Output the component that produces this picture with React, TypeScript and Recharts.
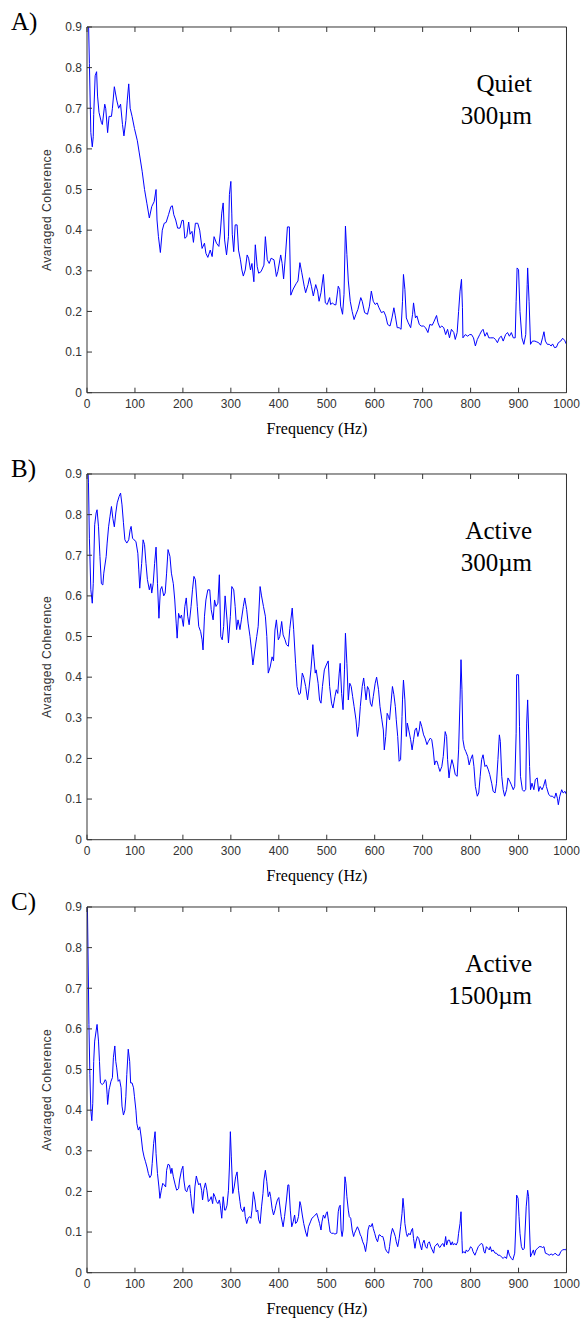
import { Line, LineChart, XAxis, YAxis } from "recharts";

const FREQ_TICKS = [0, 100, 200, 300, 400, 500, 600, 700, 800, 900, 1000];
const COH_TICKS = [0, 0.1, 0.2, 0.3, 0.4, 0.5, 0.6, 0.7, 0.8, 0.9];

// [frequency (Hz), averaged coherence]
const quiet300: [number, number][] = [
  [0, 0.98], [3, 0.92], [5, 0.81], [8, 0.64], [11, 0.605], [13, 0.63], [14, 0.685], [17, 0.78], [20, 0.79],
  [22, 0.73], [25, 0.69], [30, 0.665], [32, 0.66], [37, 0.71], [39, 0.7], [43, 0.64], [46, 0.68], [51, 0.68],
  [53, 0.7], [57, 0.753], [62, 0.72], [66, 0.7], [70, 0.71], [74, 0.66], [77, 0.632], [81, 0.67], [84, 0.72],
  [87, 0.76], [90, 0.7], [94, 0.68], [99, 0.65], [105, 0.62], [109, 0.59], [115, 0.545], [120, 0.5], [125, 0.465],
  [130, 0.43], [135, 0.458], [140, 0.47], [144, 0.5], [146, 0.425], [149, 0.384], [153, 0.345], [157, 0.4],
  [161, 0.417], [165, 0.419], [170, 0.438], [175, 0.458], [178, 0.46], [181, 0.438], [185, 0.425], [189, 0.405],
  [194, 0.405], [198, 0.424], [201, 0.424], [204, 0.38], [208, 0.384], [212, 0.42], [215, 0.39], [219, 0.397],
  [222, 0.37], [226, 0.417], [231, 0.417], [235, 0.4], [240, 0.355], [245, 0.368], [248, 0.343], [252, 0.333],
  [257, 0.351], [261, 0.335], [265, 0.384], [270, 0.368], [275, 0.36], [278, 0.393], [281, 0.442], [284, 0.467],
  [287, 0.376], [291, 0.339], [295, 0.384], [297, 0.488], [300, 0.52], [302, 0.44], [303, 0.39], [306, 0.347],
  [309, 0.413], [313, 0.413], [316, 0.351], [320, 0.327], [323, 0.302], [326, 0.287], [330, 0.302], [334, 0.339],
  [337, 0.331], [341, 0.302], [344, 0.318], [348, 0.273], [351, 0.364], [355, 0.31], [358, 0.294], [363, 0.298],
  [369, 0.314], [372, 0.384], [376, 0.327], [380, 0.318], [384, 0.331], [390, 0.327], [395, 0.286], [398, 0.298],
  [404, 0.339], [407, 0.318], [410, 0.28], [414, 0.339], [418, 0.408], [422, 0.408], [425, 0.24], [430, 0.255],
  [436, 0.268], [440, 0.275], [444, 0.32], [448, 0.295], [453, 0.262], [456, 0.246], [461, 0.266], [464, 0.283],
  [468, 0.262], [472, 0.238], [477, 0.266], [481, 0.25], [484, 0.225], [488, 0.246], [493, 0.291], [497, 0.221],
  [501, 0.217], [506, 0.234], [508, 0.217], [512, 0.221], [515, 0.217], [519, 0.216], [524, 0.262], [527, 0.254],
  [529, 0.213], [533, 0.193], [536, 0.242], [539, 0.41], [542, 0.34], [545, 0.275], [549, 0.225], [553, 0.2],
  [557, 0.18], [561, 0.193], [565, 0.205], [571, 0.234], [574, 0.225], [579, 0.197], [585, 0.193], [589, 0.213],
  [593, 0.25], [597, 0.225], [601, 0.217], [605, 0.221], [609, 0.209], [614, 0.197], [619, 0.2], [623, 0.189],
  [627, 0.168], [632, 0.164], [636, 0.184], [640, 0.209], [643, 0.189], [647, 0.16], [651, 0.16], [655, 0.156],
  [658, 0.225], [660, 0.291], [663, 0.254], [666, 0.184], [670, 0.172], [675, 0.16], [679, 0.193], [681, 0.221],
  [685, 0.184], [688, 0.189], [693, 0.168], [697, 0.164], [702, 0.164], [706, 0.16], [711, 0.148], [715, 0.168],
  [720, 0.166], [724, 0.176], [729, 0.19], [732, 0.172], [736, 0.16], [740, 0.164], [744, 0.16], [748, 0.143],
  [752, 0.156], [756, 0.135], [760, 0.156], [765, 0.148], [768, 0.131], [772, 0.148], [775, 0.2], [778, 0.25],
  [781, 0.279], [783, 0.209], [784, 0.135], [789, 0.143], [794, 0.139], [798, 0.143], [802, 0.143], [806, 0.135],
  [810, 0.115], [814, 0.131], [819, 0.143], [823, 0.152], [826, 0.156], [830, 0.139], [834, 0.148], [838, 0.135],
  [842, 0.135], [848, 0.135], [852, 0.131], [856, 0.123], [860, 0.135], [864, 0.139], [868, 0.127], [873, 0.143],
  [877, 0.148], [881, 0.139], [885, 0.148], [889, 0.135], [893, 0.135], [895, 0.225], [897, 0.307], [900, 0.303],
  [903, 0.2], [907, 0.135], [911, 0.119], [915, 0.143], [918, 0.266], [919, 0.307], [922, 0.225], [925, 0.119],
  [929, 0.127], [934, 0.127], [938, 0.125], [942, 0.123], [946, 0.117], [950, 0.135], [953, 0.15], [956, 0.127],
  [960, 0.119], [964, 0.119], [968, 0.115], [971, 0.12], [975, 0.111], [979, 0.112], [983, 0.123], [988, 0.127],
  [992, 0.134], [996, 0.129], [1000, 0.119],
];

const active300: [number, number][] = [
  [0, 0.98], [3, 0.88], [5, 0.742], [8, 0.615], [11, 0.582], [13, 0.63], [16, 0.775], [19, 0.804], [21, 0.812],
  [24, 0.77], [27, 0.697], [30, 0.63], [33, 0.627], [35, 0.656], [40, 0.697], [42, 0.73], [45, 0.77], [48, 0.796],
  [51, 0.82], [54, 0.79], [57, 0.77], [60, 0.804], [63, 0.829], [67, 0.845], [70, 0.853], [73, 0.824], [76, 0.78],
  [79, 0.738], [83, 0.73], [87, 0.738], [90, 0.763], [92, 0.771], [95, 0.742], [98, 0.738], [102, 0.734],
  [106, 0.705], [108, 0.664], [110, 0.619], [114, 0.68], [117, 0.738], [120, 0.726], [123, 0.68], [126, 0.64],
  [130, 0.615], [133, 0.63], [135, 0.607], [138, 0.63], [141, 0.68], [144, 0.72], [147, 0.63], [150, 0.545],
  [153, 0.615], [156, 0.623], [160, 0.6], [163, 0.607], [166, 0.656], [169, 0.714], [173, 0.697], [176, 0.656],
  [180, 0.63], [183, 0.59], [186, 0.533], [188, 0.496], [191, 0.557], [194, 0.545], [197, 0.553], [201, 0.525],
  [204, 0.574], [207, 0.595], [210, 0.55], [213, 0.529], [217, 0.574], [220, 0.615], [223, 0.648], [226, 0.64],
  [230, 0.574], [233, 0.525], [237, 0.512], [240, 0.492], [242, 0.467], [245, 0.55], [248, 0.59], [252, 0.615],
  [256, 0.615], [259, 0.566], [263, 0.541], [266, 0.59], [269, 0.574], [273, 0.582], [276, 0.652], [279, 0.5],
  [282, 0.492], [285, 0.525], [288, 0.6], [292, 0.541], [295, 0.484], [299, 0.55], [302, 0.623], [306, 0.615],
  [309, 0.574], [312, 0.517], [315, 0.541], [319, 0.517], [322, 0.541], [326, 0.574], [329, 0.595], [333, 0.566],
  [336, 0.533], [340, 0.5], [343, 0.467], [346, 0.43], [350, 0.467], [354, 0.5], [357, 0.525], [361, 0.623],
  [364, 0.6], [368, 0.574], [372, 0.55], [375, 0.5], [378, 0.41], [382, 0.425], [386, 0.45], [389, 0.44],
  [392, 0.516], [395, 0.541], [399, 0.492], [402, 0.5], [406, 0.537], [409, 0.504], [413, 0.492], [416, 0.48],
  [420, 0.476], [423, 0.52], [428, 0.57], [431, 0.517], [435, 0.434], [438, 0.377], [442, 0.357], [445, 0.36],
  [449, 0.41], [452, 0.4], [456, 0.377], [460, 0.344], [463, 0.373], [467, 0.418], [471, 0.48], [473, 0.45],
  [476, 0.41], [478, 0.418], [482, 0.385], [485, 0.344], [488, 0.336], [491, 0.377], [495, 0.418], [499, 0.43],
  [503, 0.44], [506, 0.377], [510, 0.336], [513, 0.324], [517, 0.352], [520, 0.369], [523, 0.36], [526, 0.41],
  [528, 0.434], [531, 0.36], [534, 0.32], [537, 0.418], [539, 0.508], [542, 0.434], [545, 0.344], [548, 0.385],
  [551, 0.377], [554, 0.352], [557, 0.328], [561, 0.295], [564, 0.254], [567, 0.279], [570, 0.328], [574, 0.377],
  [577, 0.398], [579, 0.377], [582, 0.344], [585, 0.377], [588, 0.369], [591, 0.336], [594, 0.328], [597, 0.352],
  [601, 0.385], [604, 0.4], [608, 0.369], [611, 0.328], [615, 0.295], [618, 0.27], [620, 0.221], [623, 0.254],
  [626, 0.311], [629, 0.303], [631, 0.295], [634, 0.336], [637, 0.377], [640, 0.357], [643, 0.328], [645, 0.295],
  [648, 0.254], [651, 0.193], [654, 0.197], [657, 0.303], [658, 0.344], [660, 0.393], [663, 0.344], [666, 0.254],
  [668, 0.287], [671, 0.27], [675, 0.246], [678, 0.221], [681, 0.246], [684, 0.27], [687, 0.275], [690, 0.254],
  [693, 0.27], [695, 0.291], [698, 0.279], [702, 0.258], [705, 0.25], [709, 0.234], [712, 0.242], [716, 0.25],
  [719, 0.246], [722, 0.221], [725, 0.184], [727, 0.193], [730, 0.193], [733, 0.18], [736, 0.168], [740, 0.18],
  [743, 0.205], [747, 0.266], [750, 0.254], [752, 0.197], [755, 0.152], [757, 0.172], [761, 0.197], [764, 0.184],
  [768, 0.16], [772, 0.156], [775, 0.221], [778, 0.344], [780, 0.443], [782, 0.369], [784, 0.246], [787, 0.225],
  [790, 0.217], [794, 0.205], [797, 0.184], [800, 0.197], [804, 0.209], [807, 0.18], [810, 0.131], [814, 0.107],
  [817, 0.115], [820, 0.156], [823, 0.197], [826, 0.209], [830, 0.18], [833, 0.184], [837, 0.172], [840, 0.16],
  [844, 0.139], [847, 0.119], [851, 0.115], [854, 0.139], [857, 0.197], [860, 0.258], [862, 0.242], [865, 0.156],
  [868, 0.123], [871, 0.107], [875, 0.123], [878, 0.152], [882, 0.143], [885, 0.135], [889, 0.123], [892, 0.131],
  [895, 0.262], [896, 0.406], [900, 0.406], [902, 0.279], [904, 0.156], [908, 0.123], [911, 0.119], [915, 0.123],
  [917, 0.287], [919, 0.344], [921, 0.27], [923, 0.18], [925, 0.123], [928, 0.139], [932, 0.123], [935, 0.148],
  [939, 0.152], [942, 0.119], [945, 0.131], [949, 0.123], [952, 0.131], [956, 0.148], [958, 0.131], [963, 0.111],
  [967, 0.107], [971, 0.107], [975, 0.102], [978, 0.115], [981, 0.102], [983, 0.086], [986, 0.107], [990, 0.123],
  [993, 0.115], [997, 0.119], [1000, 0.111],
];

const active1500: [number, number][] = [
  [0, 0.98], [2, 0.8], [4, 0.611], [6, 0.488], [8, 0.4], [10, 0.374], [12, 0.416], [14, 0.52], [16, 0.57],
  [19, 0.595], [21, 0.611], [24, 0.57], [26, 0.52], [28, 0.467], [32, 0.463], [35, 0.467], [38, 0.475], [40, 0.471],
  [42, 0.438], [43, 0.414], [46, 0.45], [47, 0.455], [50, 0.471], [53, 0.48], [55, 0.529], [58, 0.558], [60, 0.52],
  [62, 0.504], [65, 0.471], [68, 0.475], [71, 0.455], [73, 0.41], [76, 0.388], [79, 0.4], [81, 0.433], [83, 0.488],
  [86, 0.55], [89, 0.52], [91, 0.467], [94, 0.467], [97, 0.455], [99, 0.433], [102, 0.4], [104, 0.367], [107, 0.351],
  [110, 0.359], [113, 0.334], [116, 0.302], [119, 0.285], [122, 0.273], [125, 0.26], [128, 0.244], [131, 0.234],
  [134, 0.24], [136, 0.269], [139, 0.318], [142, 0.347], [144, 0.293], [147, 0.244], [150, 0.211], [152, 0.183],
  [155, 0.203], [158, 0.22], [161, 0.216], [164, 0.211], [166, 0.252], [169, 0.267], [172, 0.265], [175, 0.244],
  [177, 0.257], [180, 0.236], [184, 0.216], [187, 0.203], [191, 0.207], [193, 0.228], [197, 0.252], [200, 0.262],
  [202, 0.228], [205, 0.203], [208, 0.199], [211, 0.211], [214, 0.216], [216, 0.195], [219, 0.162], [222, 0.146],
  [225, 0.211], [228, 0.238], [230, 0.228], [233, 0.216], [236, 0.22], [239, 0.203], [241, 0.179], [244, 0.207],
  [247, 0.221], [250, 0.203], [253, 0.175], [256, 0.179], [259, 0.187], [262, 0.17], [264, 0.195], [267, 0.187],
  [270, 0.175], [273, 0.17], [276, 0.179], [278, 0.166], [281, 0.134], [284, 0.187], [287, 0.154], [289, 0.154],
  [292, 0.166], [295, 0.203], [297, 0.26], [299, 0.347], [301, 0.285], [304, 0.195], [307, 0.211], [310, 0.236],
  [313, 0.248], [316, 0.203], [319, 0.175], [321, 0.158], [325, 0.15], [328, 0.162], [330, 0.138], [333, 0.121],
  [336, 0.134], [339, 0.138], [342, 0.134], [344, 0.154], [347, 0.199], [350, 0.179], [353, 0.15], [356, 0.154],
  [358, 0.13], [361, 0.121], [364, 0.162], [367, 0.195], [369, 0.228], [372, 0.252], [375, 0.224], [378, 0.187],
  [381, 0.199], [383, 0.187], [386, 0.158], [389, 0.142], [392, 0.154], [394, 0.166], [397, 0.179], [400, 0.185],
  [405, 0.138], [409, 0.113], [412, 0.138], [416, 0.179], [419, 0.216], [421, 0.216], [424, 0.154], [427, 0.113],
  [430, 0.125], [433, 0.142], [435, 0.121], [438, 0.125], [441, 0.138], [444, 0.175], [446, 0.166], [449, 0.142],
  [452, 0.121], [456, 0.1], [459, 0.089], [462, 0.113], [466, 0.125], [469, 0.134], [473, 0.138], [476, 0.142],
  [479, 0.146], [482, 0.134], [485, 0.121], [488, 0.105], [490, 0.125], [493, 0.142], [496, 0.134], [499, 0.146],
  [501, 0.15], [504, 0.125], [507, 0.1], [510, 0.097], [514, 0.097], [517, 0.095], [521, 0.097], [524, 0.15],
  [526, 0.162], [528, 0.166], [530, 0.105], [532, 0.089], [534, 0.105], [536, 0.179], [538, 0.236], [540, 0.22],
  [542, 0.187], [545, 0.154], [547, 0.138], [550, 0.134], [553, 0.105], [556, 0.089], [558, 0.097], [561, 0.105],
  [564, 0.113], [567, 0.105], [570, 0.093], [572, 0.089], [575, 0.076], [578, 0.068], [581, 0.052], [584, 0.076],
  [586, 0.105], [589, 0.117], [592, 0.113], [595, 0.121], [597, 0.109], [600, 0.097], [603, 0.084], [606, 0.076],
  [609, 0.093], [611, 0.093], [614, 0.089], [617, 0.089], [620, 0.076], [622, 0.06], [625, 0.052], [629, 0.048],
  [631, 0.064], [634, 0.093], [637, 0.109], [640, 0.1], [643, 0.089], [645, 0.076], [648, 0.064], [651, 0.084],
  [654, 0.113], [657, 0.146], [659, 0.183], [661, 0.158], [663, 0.121], [666, 0.097], [668, 0.089], [671, 0.097],
  [674, 0.093], [677, 0.105], [679, 0.109], [681, 0.084], [684, 0.06], [686, 0.076], [689, 0.089], [692, 0.084],
  [695, 0.068], [698, 0.056], [700, 0.072], [703, 0.08], [706, 0.064], [709, 0.06], [711, 0.072], [714, 0.076],
  [717, 0.064], [720, 0.056], [723, 0.048], [725, 0.064], [728, 0.068], [731, 0.072], [734, 0.064], [736, 0.062],
  [739, 0.068], [742, 0.072], [745, 0.064], [748, 0.089], [750, 0.068], [753, 0.08], [756, 0.08], [759, 0.068],
  [762, 0.076], [764, 0.068], [767, 0.072], [770, 0.068], [773, 0.076], [775, 0.097], [778, 0.121], [780, 0.15],
  [782, 0.08], [783, 0.048], [786, 0.052], [789, 0.048], [791, 0.056], [794, 0.052], [797, 0.056], [800, 0.064],
  [803, 0.06], [805, 0.052], [809, 0.043], [812, 0.052], [816, 0.064], [819, 0.068], [822, 0.072], [825, 0.07],
  [828, 0.052], [830, 0.048], [833, 0.064], [836, 0.06], [839, 0.056], [841, 0.064], [844, 0.052], [847, 0.056],
  [851, 0.048], [854, 0.048], [857, 0.043], [861, 0.043], [864, 0.039], [868, 0.035], [871, 0.039], [875, 0.035],
  [878, 0.056], [881, 0.043], [885, 0.035], [888, 0.031], [892, 0.048], [894, 0.105], [896, 0.191], [899, 0.183],
  [901, 0.138], [903, 0.097], [906, 0.064], [909, 0.056], [912, 0.06], [916, 0.162], [919, 0.203], [921, 0.187],
  [923, 0.105], [925, 0.039], [928, 0.048], [931, 0.056], [933, 0.043], [936, 0.056], [940, 0.06], [943, 0.064],
  [947, 0.064], [950, 0.062], [953, 0.064], [956, 0.048], [960, 0.046], [964, 0.043], [968, 0.046], [972, 0.043],
  [976, 0.048], [981, 0.043], [985, 0.043], [988, 0.052], [992, 0.056], [995, 0.057], [998, 0.056], [1000, 0.06],
];

const PANELS = [
  { letter: "A)", note: ["Quiet", "300µm"], data: quiet300, plotTop: 26.5 },
  { letter: "B)", note: ["Active", "300µm"], data: active300, plotTop: 474.3 },
  { letter: "C)", note: ["Active", "1500µm"], data: active1500, plotTop: 906.7 },
];

const W = 582;
const TOP = 20;
const PLOT_H = 365.7;
const CHART_H = TOP + PLOT_H + 50;
const AXIS = "#333";
const SANS = "'Liberation Sans', Arial, sans-serif";
const SERIF = "'Liberation Serif', 'Times New Roman', serif";
const tickStyle = { fill: "#333", fontSize: 12, fontFamily: SANS };

function Panel({ letter, note, data, plotTop }: { letter: string; note: string[]; data: [number, number][]; plotTop: number }) {
  const rows = data.map(([f, c]) => ({ f, c }));
  const plotBottom = TOP + PLOT_H;
  return (
    <div style={{ position: "absolute", left: 0, top: plotTop - TOP, width: W, height: CHART_H }}>
      <LineChart width={W} height={CHART_H} data={rows} margin={{ top: TOP - 1, right: 14.5, bottom: 10, left: 0 }}>
        <XAxis
          xAxisId="bottom"
          dataKey="f"
          type="number"
          domain={[0, 1000]}
          ticks={FREQ_TICKS}
          interval={0}
          allowDataOverflow
          height={40}
          tickSize={-5}
          tickMargin={12}
          stroke={AXIS}
          tick={tickStyle}
        />
        <XAxis
          xAxisId="top"
          orientation="top"
          dataKey="f"
          type="number"
          domain={[0, 1000]}
          ticks={FREQ_TICKS}
          interval={0}
          height={1}
          tickSize={-5}
          stroke={AXIS}
          tickFormatter={() => ""}
        />
        <YAxis
          yAxisId="left"
          type="number"
          domain={[0, 0.9]}
          ticks={COH_TICKS}
          interval={0}
          allowDataOverflow
          width={87}
          tickSize={-5}
          tickMargin={10}
          stroke={AXIS}
          tick={tickStyle}
        />
        <YAxis
          yAxisId="right"
          orientation="right"
          type="number"
          domain={[0, 0.9]}
          ticks={COH_TICKS}
          interval={0}
          width={1}
          tickSize={-5}
          stroke={AXIS}
          tickFormatter={() => ""}
        />
        <Line
          xAxisId="bottom"
          yAxisId="left"
          type="linear"
          dataKey="c"
          stroke="#0000ff"
          strokeWidth={1}
          dot={false}
          isAnimationActive={false}
        />
      </LineChart>
      <svg width={W} height={CHART_H} style={{ position: "absolute", left: 0, top: 0, pointerEvents: "none" }}>
        <text x={11} y={TOP + 3} fontFamily={SERIF} fontSize={25} fill="#000">
          {letter}
        </text>
        <text x={532} y={TOP + 65} fontFamily={SERIF} fontSize={25} fill="#000" textAnchor="end">
          {note[0]}
        </text>
        <text x={532} y={TOP + 97.3} fontFamily={SERIF} fontSize={25} fill="#000" textAnchor="end">
          {note[1]}
        </text>
        <text x={317} y={plotBottom + 41.3} fontFamily={SERIF} fontSize={16} fill="#000" textAnchor="middle">
          Frequency (Hz)
        </text>
        <text
          x={51.5}
          y={TOP + PLOT_H / 2}
          transform={`rotate(-90 51.5 ${TOP + PLOT_H / 2})`}
          fontFamily={SANS}
          fontSize={12}
          letterSpacing={0.5}
          fill="#333"
          textAnchor="middle"
        >
          Avaraged Coherence
        </text>
      </svg>
    </div>
  );
}

export default function App() {
  return (
    <div style={{ position: "absolute", left: 0, top: 0, width: W, height: 1318, background: "#fff" }}>
      {PANELS.map((p) => (
        <Panel key={p.letter} {...p} />
      ))}
    </div>
  );
}
